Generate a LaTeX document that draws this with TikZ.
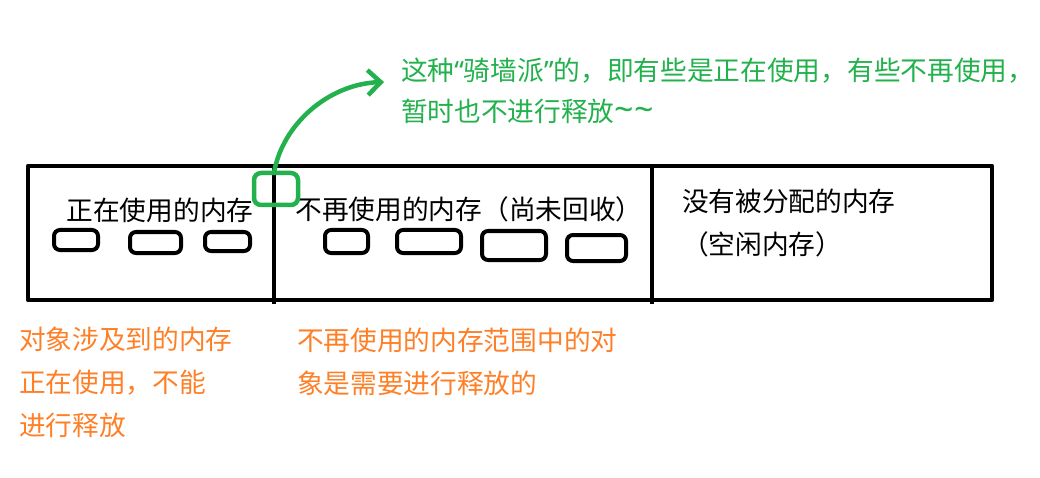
\documentclass[tikz,border=0pt]{standalone}
\usepackage{fontspec}
\setmainfont{Noto Sans CJK SC}
\newfontfamily\latinfont{Noto Sans}
\usetikzlibrary{positioning,arrows.meta}
\definecolor{paintgreen}{RGB}{34,177,76}
\definecolor{paintorange}{RGB}{255,127,39}
\newcommand\openq{{\latinfont “}}
\newcommand\closeq{{\latinfont ”}}
\newcommand\wave{{\latinfont\fontsize{34}{34}\selectfont\textasciitilde}}
\tikzset{
  heap/.style={x=1pt,y=-1pt,line join=round,
    every node/.style={inner sep=0pt,outer sep=0pt}},
  region/.style={draw=black,line width=4.3pt},
  obj/.style={draw=black,line width=4pt,rounded corners=6pt},
  lbl/.style={font=\fontsize{26.7}{43}\selectfont,anchor=north west,align=left},
  gapmark/.style={draw=paintgreen,line width=4.5pt,rounded corners=7pt,
    minimum width=44pt,minimum height=32pt},
  pointer/.style={draw=paintgreen,line width=4.5pt,line cap=round,
    -{Straight Barb[length=13pt,width=25pt,line width=4.5pt]}},
}

\begin{document}
\begin{tikzpicture}[heap]
  \useasboundingbox (0,0) rectangle (1040,478);
  % memory strip
  \draw[region] (28,166) rectangle (992,300);
  \draw[region] (274,166) -- (274,304);
  \draw[region] (652,166) -- (652,304);
  % labels inside the strip
  \node[lbl,anchor=center] (usedlbl) at (160,210) {正在使用的内存};
  \node[lbl,anchor=center] (garbagelbl) at (469,209) {不再使用的内存（尚未回收）};
  \node[lbl] (freelbl) at (682,189) {没有被分配的内存\\（空闲内存）};
  % objects
  \node[obj,minimum width=44pt,minimum height=20pt] (o1) at (76,240) {};
  \node[obj,minimum width=51pt,minimum height=21pt] (o2) at (155.5,242.5) {};
  \node[obj,minimum width=45pt,minimum height=19pt] (o3) at (227.5,241.5) {};
  \node[obj,minimum width=43pt,minimum height=23pt] (o4) at (346.5,241.5) {};
  \node[obj,minimum width=64pt,minimum height=23pt] (o5) at (429,241.5) {};
  \node[obj,minimum width=64pt,minimum height=29pt] (o6) at (514,245.5) {};
  \node[obj,minimum width=59pt,minimum height=26pt] (o7) at (596.5,248) {};
  % the one on the border
  \node[gapmark] (edgeobj) at (276,189) {};
  \node[lbl,text=paintgreen,font=\fontsize{26.7}{41}\selectfont] (straddlenote) at (401,58)
    {这种\openq 骑墙派\closeq 的，即有些是正在使用，有些不再使用，\\暂时也不进行释放\wave\wave};
  \coordinate (tip) at (384,82);
  \draw[pointer] ([xshift=-2pt]edgeobj.north) .. controls (282,125) and (328,84) .. (tip);
  % notes below
  \node[lbl,text=paintorange] (usednote) at (19,327)
    {对象涉及到的内存\\正在使用，不能\\进行释放};
  \node[lbl,text=paintorange] (garbagenote) at (297,328)
    {不再使用的内存范围中的对\\象是需要进行释放的};
\end{tikzpicture}
\end{document}
